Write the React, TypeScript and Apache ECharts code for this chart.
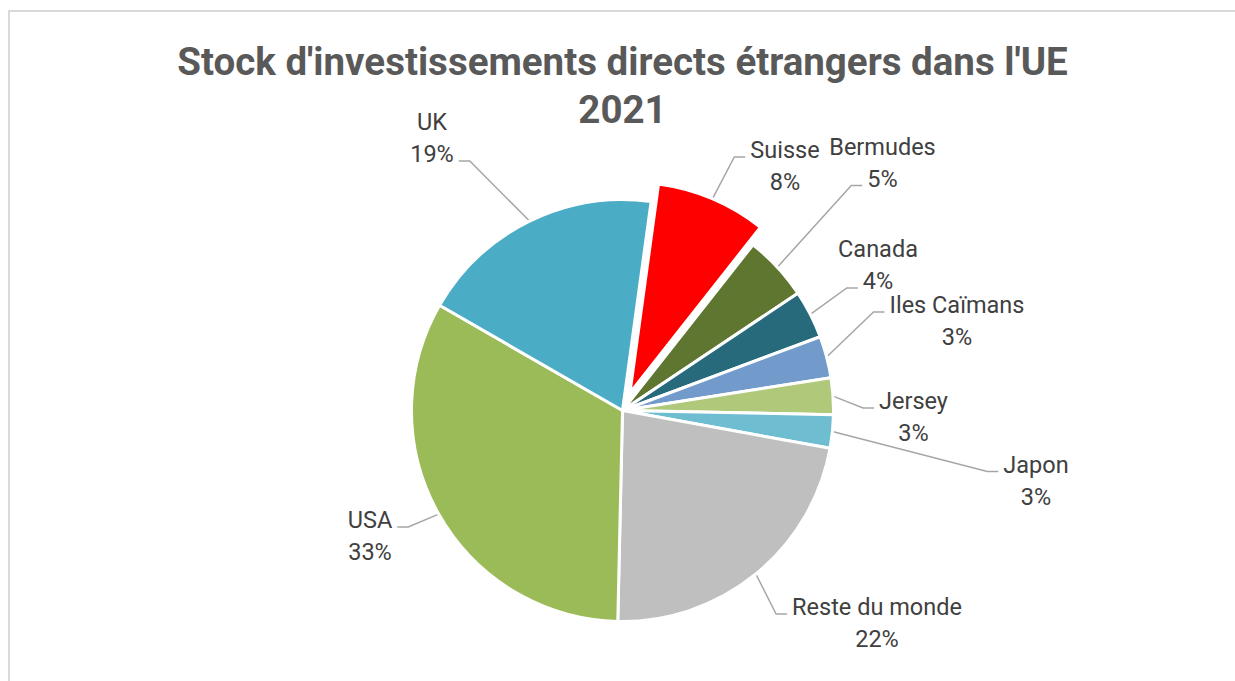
import React, { useEffect, useRef } from "react";
import * as echarts from "echarts";

// ---- data ----
const categories = [
  "Suisse",
  "Bermudes",
  "Canada",
  "Iles Caïmans",
  "Jersey",
  "Japon",
  "Reste du monde",
  "USA",
  "UK",
];
const shares = [8.45, 5.0, 3.7, 3.2, 2.8, 2.55, 22.49, 32.95, 18.86];
const explodedCategory = "Suisse";

// ---- styles ----
const sliceColors = [
  "#FF0000",
  "#5F7630",
  "#276A7C",
  "#729ACA",
  "#AFC87A",
  "#6FBDD1",
  "#BFBFBF",
  "#9BBB59",
  "#4BACC6",
];
const titleLines = ["Stock d'investissements directs étrangers dans l'UE", "2021"];

const PIE_CX = 622.5;
const PIE_CY = 410.5;
const PIE_R = 211;
const FIRST_SLICE_ANGLE = 7.8; // degrees clockwise from 12 o'clock
const EXPLODE = 19;

// label block centre, side the leader line comes from, and text line it attaches to
const labelPlacement: Record<string, { cx: number; cy: number; side: "left" | "right"; line: 0 | 1 }> = {
  Suisse: { cx: 785, cy: 166, side: "left", line: 0 },
  Bermudes: { cx: 882.5, cy: 162.5, side: "left", line: 1 },
  Canada: { cx: 878, cy: 265, side: "left", line: 1 },
  "Iles Caïmans": { cx: 957, cy: 321, side: "left", line: 0 },
  Jersey: { cx: 913.5, cy: 417, side: "left", line: 0 },
  Japon: { cx: 1036, cy: 480.5, side: "left", line: 0 },
  "Reste du monde": { cx: 877, cy: 623, side: "left", line: 0 },
  USA: { cx: 370, cy: 536, side: "right", line: 0 },
  UK: { cx: 432, cy: 138, side: "right", line: 1 },
};

const LABEL_FONT_SIZE = 23.5;
const LABEL_LINE_HEIGHT = 32;
const LABEL_FONT = "Roboto";

let measureCtx: CanvasRenderingContext2D | null = null;
function measure(s: string): number {
  if (!measureCtx) {
    measureCtx = document.createElement("canvas").getContext("2d");
  }
  if (!measureCtx) return s.length * LABEL_FONT_SIZE * 0.5;
  measureCtx.font = `${LABEL_FONT_SIZE}px ${LABEL_FONT}`;
  return measureCtx.measureText(s).width;
}

const transparentItem = {
  itemStyle: { color: "rgba(0,0,0,0)", borderWidth: 0 },
  label: { show: false },
  labelLine: { show: false },
};

function makePieSeries(center: number[], visible: (name: string) => boolean): any {
  return {
    type: "pie",
    center,
    radius: PIE_R,
    startAngle: 90 - FIRST_SLICE_ANGLE,
    clockwise: true,
    avoidLabelOverlap: false,
    percentPrecision: 0,
    silent: true,
    emphasis: { disabled: true },
    itemStyle: { borderColor: "#ffffff", borderWidth: 3 },
    label: {
      show: true,
      position: "outside",
      formatter: "{t|{b}}\n{t|{d}%}",
      rich: {
        t: {
          align: "center",
          fontFamily: LABEL_FONT,
          fontSize: LABEL_FONT_SIZE,
          lineHeight: LABEL_LINE_HEIGHT,
          color: "#404040",
        },
      },
    },
    labelLine: {
      show: true,
      smooth: false,
      lineStyle: { color: "#A6A6A6", width: 1.5 },
    },
    labelLayout: (params: any) => {
      const name = categories[params.dataIndex];
      const p = labelPlacement[name];
      if (!p || !visible(name)) return {};
      const lines = String(params.text || "")
        .split("\n")
        .map((s) => s.replace(/\{t\|/g, "").replace(/\}/g, ""));
      const w = measure(lines[p.line] ?? lines[0] ?? "");
      const ly = p.cy + (p.line === 0 ? -LABEL_LINE_HEIGHT / 2 : LABEL_LINE_HEIGHT / 2) + 7;
      const ax = p.side === "left" ? p.cx - w / 2 - 5 : p.cx + w / 2 + 5;
      const bx = p.side === "left" ? ax - 11 : ax + 11;
      const start =
        params.labelLinePoints && params.labelLinePoints[0] ? params.labelLinePoints[0] : [bx, ly];
      return {
        x: p.cx,
        y: p.cy,
        align: "center",
        verticalAlign: "middle",
        labelLinePoints: [start, [bx, ly], [ax, ly]],
      };
    },
    data: categories.map((name, i) =>
      visible(name)
        ? { name, value: shares[i], itemStyle: { color: sliceColors[i] } }
        : { name, value: shares[i], ...transparentItem }
    ),
  };
}

export default function App() {
  const ref = useRef<HTMLDivElement>(null);

  useEffect(() => {
    if (!ref.current) return;
    const chart = echarts.init(ref.current, undefined, { renderer: "svg" });

    // centre of the pulled-out slice, moved along its bisector
    const idx = categories.indexOf(explodedCategory);
    const total = shares.reduce((a, b) => a + b, 0);
    const before = shares.slice(0, idx).reduce((a, b) => a + b, 0);
    const midDeg = FIRST_SLICE_ANGLE + ((before + shares[idx] / 2) / total) * 360;
    const rad = (midDeg * Math.PI) / 180;
    const explodedCenter = [PIE_CX + EXPLODE * Math.sin(rad), PIE_CY - EXPLODE * Math.cos(rad)];

    const option: any = {
      animation: false,
      backgroundColor: "#ffffff",
      title: {
        text: titleLines.join("\n"),
        left: 622.5,
        top: 38,
        padding: 0,
        textAlign: "center",
        textStyle: {
          fontFamily: "Roboto",
          fontWeight: "bold",
          fontSize: 38.5,
          lineHeight: 47.5,
          color: "#595959",
        },
      },
      graphic: [
        {
          type: "rect",
          silent: true,
          shape: { x: 9, y: 11, width: 1400, height: 900 },
          style: { fill: "none", stroke: "#D9D9D9", lineWidth: 2 },
        },
      ],
      series: [
        makePieSeries([PIE_CX, PIE_CY], (n) => n !== explodedCategory),
        makePieSeries(explodedCenter, (n) => n === explodedCategory),
      ],
    };

    chart.setOption(option);
    return () => chart.dispose();
  }, []);

  return (
    <div
      ref={ref}
      style={{ position: "fixed", left: 0, top: 0, width: 1235, height: 681, background: "#fff" }}
    />
  );
}
